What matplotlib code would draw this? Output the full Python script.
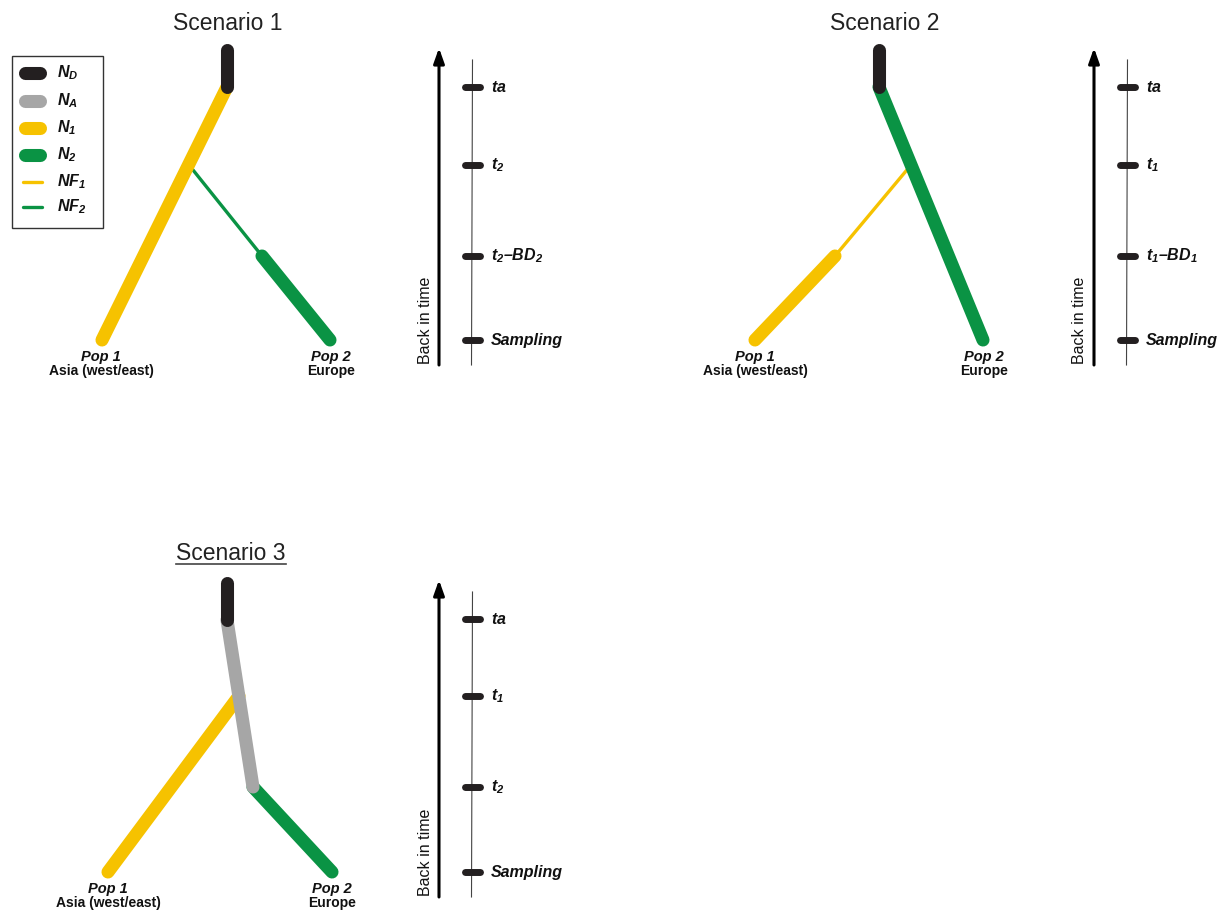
import matplotlib.pyplot as plt
from matplotlib.patches import Rectangle

plt.rcParams['font.family'] = ['Liberation Sans', 'DejaVu Sans']
plt.rcParams['mathtext.fontset'] = 'custom'
plt.rcParams['mathtext.it'] = 'Liberation Sans:bold:italic'
plt.rcParams['mathtext.rm'] = 'Liberation Sans:bold:italic'
plt.rcParams['mathtext.bf'] = 'Liberation Sans:bold:italic'

C_ND = '#231f20'
C_NA = '#a6a6a6'
C_N1 = '#f6c200'
C_N2 = '#0a9344'

# event times (back from sampling) for each scenario's time axis
events_1 = ['$ta$', '$t_2$', '$t_2$\u2013$BD_2$', 'Sampling']
times_1 = [253, 175, 84, 0]
events_2 = ['$ta$', '$t_1$', '$t_1$\u2013$BD_1$', 'Sampling']
times_2 = [253, 175, 84, 0]
events_3 = ['$ta$', '$t_1$', '$t_2$', 'Sampling']
times_3 = [253, 176, 85, 0]

# branches: (lateral position, time) pairs
s1_nd = ([227, 227], [290, 253])
s1_n1 = ([227, 102], [253, 0])
s1_nf2 = ([189, 262], [175, 84])
s1_n2 = ([262, 330], [84, 0])

s2_nd = ([224, 224], [290, 253])
s2_n2 = ([224, 328], [253, 0])
s2_nf1 = ([256, 180], [175, 84])
s2_n1 = ([180, 100], [84, 0])

s3_nd = ([227, 227], [289, 252])
s3_na = ([227, 253], [252, 85])
s3_n1 = ([239, 108], [176, 0])
s3_n2 = ([253, 332], [85, 0])

legend_labels = ['$N_D$', '$N_A$', '$N_1$', '$N_2$', '$NF_1$', '$NF_2$']
legend_colors = [C_ND, C_NA, C_N1, C_N2, C_N1, C_N2]
legend_thick = [True, True, True, True, False, False]

THICK = 9.4
THIN = 2.4

fig = plt.figure(figsize=(12.29, 9.16), dpi=100)
ax = fig.add_axes([0, 0, 1, 1])
ax.set_xlim(0, 1229)
ax.set_ylim(916, 0)
ax.axis('off')


def branch(x0, base, seg, color, lw, z):
    xs, ts = seg
    ax.plot([x0 + x for x in xs], [base - t for t in ts], color=color, lw=lw,
            solid_capstyle='round', zorder=z)


def time_axis(x0, base, labels, times):
    ax.annotate('', xy=(x0 + 439, base - 292), xytext=(x0 + 439, base + 25),
                arrowprops=dict(arrowstyle='-|>,head_length=0.9,head_width=0.32',
                                lw=2.2, color='black', shrinkA=0, shrinkB=0))
    ax.text(x0 + 425, base - 20, 'Back in time', rotation=90, ha='center',
            va='center', fontsize=11.5, color='#111111')
    ax.plot([x0 + 472.5, x0 + 471.5], [base - 280, base + 25], color='#444444', lw=0.8)
    for lab, t in zip(labels, times):
        ax.plot([x0 + 465, x0 + 480], [base - t, base - t], color=C_ND, lw=5,
                solid_capstyle='round', zorder=3)
        ax.text(x0 + 491, base - t, lab, ha='left', va='center', fontsize=11.5,
                fontweight='bold', style='italic', color='#111111')


def pop_labels(x0, base, x_pop1, x_pop2):
    for x, name, place in [(x_pop1, 'Pop 1', 'Asia (west/east)'),
                           (x_pop2, 'Pop 2', 'Europe')]:
        ax.text(x0 + x, base + 21, name, ha='center', va='baseline', fontsize=10.5,
                fontweight='bold', style='italic', color='#111111')
        ax.text(x0 + x, base + 35, place, ha='center', va='baseline', fontsize=10,
                fontweight='bold', color='#111111')


# Scenario 1
ax.text(228, 30, 'Scenario 1', ha='center', va='baseline', fontsize=16.5, color='#222222')
branch(0, 340, s1_nf2, C_N2, THIN, 2)
branch(0, 340, s1_n2, C_N2, THICK, 2)
branch(0, 340, s1_n1, C_N1, THICK, 3)
branch(0, 340, s1_nd, C_ND, THICK, 4)
pop_labels(0, 340, 101, 331)
time_axis(0, 340, events_1, times_1)

# Scenario 2
ax.text(885, 30, 'Scenario 2', ha='center', va='baseline', fontsize=16.5, color='#222222')
branch(655, 340, s2_nf1, C_N1, THIN, 2)
branch(655, 340, s2_n1, C_N1, THICK, 2)
branch(655, 340, s2_n2, C_N2, THICK, 3)
branch(655, 340, s2_nd, C_ND, THICK, 4)
pop_labels(655, 340, 100, 329)
time_axis(655, 340, events_2, times_2)

# Scenario 3 (underlined title)
t3 = ax.text(231, 560, 'Scenario 3', ha='center', va='baseline', fontsize=16.5, color='#222222')
branch(0, 872, s3_n1, C_N1, THICK, 2)
branch(0, 872, s3_n2, C_N2, THICK, 2)
branch(0, 872, s3_na, C_NA, THICK, 3)
branch(0, 872, s3_nd, C_ND, THICK, 4)
pop_labels(0, 872, 108, 332)
time_axis(0, 872, events_3, times_3)

fig.canvas.draw()
bb = t3.get_window_extent().transformed(ax.transData.inverted())
ax.plot([bb.x0, bb.x1], [563.5, 563.5], color='#444444', lw=1.2)

# legend box
ax.add_patch(Rectangle((12, 56), 91, 172, fill=False, edgecolor='#333333', lw=1.0))
legend_y = [73, 101, 128, 155, 182, 207]
for y, lab, col, thick in zip(legend_y, legend_labels, legend_colors, legend_thick):
    if thick:
        ax.plot([25, 40], [y, y], color=col, lw=THICK, solid_capstyle='round')
    else:
        ax.plot([23, 42], [y, y], color=col, lw=THIN, solid_capstyle='round')
    ax.text(57, y, lab, ha='left', va='center', fontsize=11.5, color='#111111')

fig.savefig('out.png', dpi=100)
